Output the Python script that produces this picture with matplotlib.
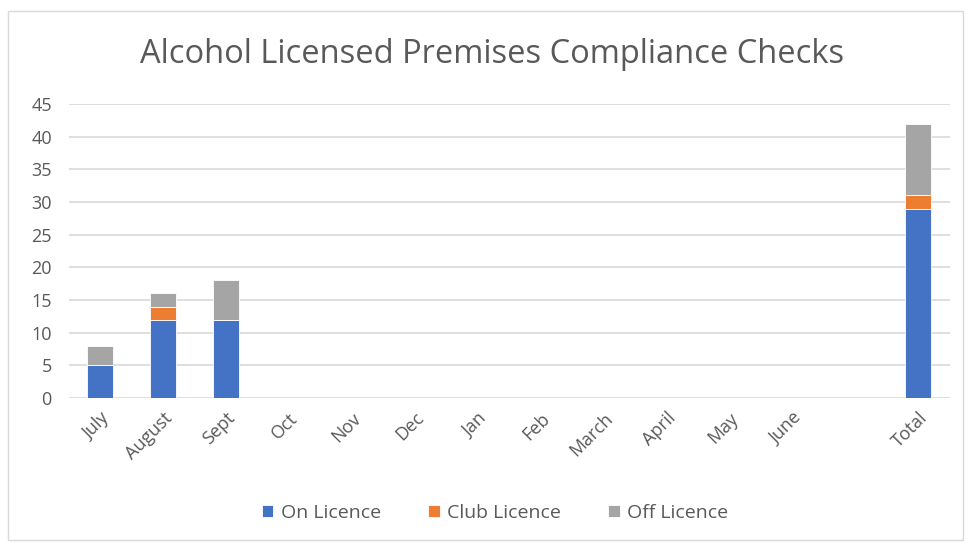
import matplotlib
matplotlib.use("Agg")
import matplotlib.pyplot as plt
import numpy as np
from matplotlib.patches import Rectangle

months = ["July", "August", "Sept", "Oct", "Nov", "Dec", "Jan", "Feb",
          "March", "April", "May", "June", "", "Total"]
on_licence = [5, 12, 12, 0, 0, 0, 0, 0, 0, 0, 0, 0, 0, 29]
club_licence = [0, 2, 0, 0, 0, 0, 0, 0, 0, 0, 0, 0, 0, 2]
off_licence = [3, 2, 6, 0, 0, 0, 0, 0, 0, 0, 0, 0, 0, 11]

plt.rcParams["font.family"] = ["Open Sans", "DejaVu Sans"]
txt = "#595959"

fig = plt.figure(figsize=(9.65, 5.43), dpi=100)
# axes box in figure fractions
ax = fig.add_axes([0.071, 0.267, 0.913, 0.5415])

x = np.arange(len(months))
on = np.array(on_licence)
club = np.array(club_licence)
off = np.array(off_licence)
w = 0.42
ax.bar(x, on, w, color="#4472C4", edgecolor="white", linewidth=0.6, label="On Licence", zorder=3)
ax.bar(x, club, w, bottom=on, color="#ED7D31", edgecolor="white", linewidth=0.6, label="Club Licence", zorder=3)
ax.bar(x, off, w, bottom=on + club, color="#A5A5A5", edgecolor="white", linewidth=0.6, label="Off Licence", zorder=3)

ax.set_xlim(-0.5, len(months) - 0.5)
ax.set_ylim(0, 45)
ax.set_yticks(range(0, 46, 5))
ax.set_xticks(x)
ax.set_xticklabels(months, rotation=45, ha="right", rotation_mode="anchor")
ax.tick_params(axis="both", length=0, colors=txt, labelsize=13)
ax.tick_params(axis="x", pad=8)
ax.tick_params(axis="y", pad=12)
ax.grid(axis="y", color="#D9D9D9", linewidth=1.2, zorder=0)
for s in ax.spines.values():
    s.set_visible(False)

fig.text(0.51, 0.9, "Alcohol Licensed Premises Compliance Checks", ha="center", va="center",
         fontsize=23.5, color=txt)

ax.legend(loc="center", bbox_to_anchor=(0.513, 0.055), bbox_transform=fig.transFigure,
          ncol=3, frameon=False, fontsize=14, labelcolor=txt, handlelength=0.6,
          handleheight=0.6, columnspacing=2.4, handletextpad=0.4)

fig.patches.append(Rectangle((0.008, 0.005), 0.99, 0.975, transform=fig.transFigure,
                             fill=False, edgecolor="#D9D9D9", linewidth=1))

fig.savefig("out.png", dpi=100)
